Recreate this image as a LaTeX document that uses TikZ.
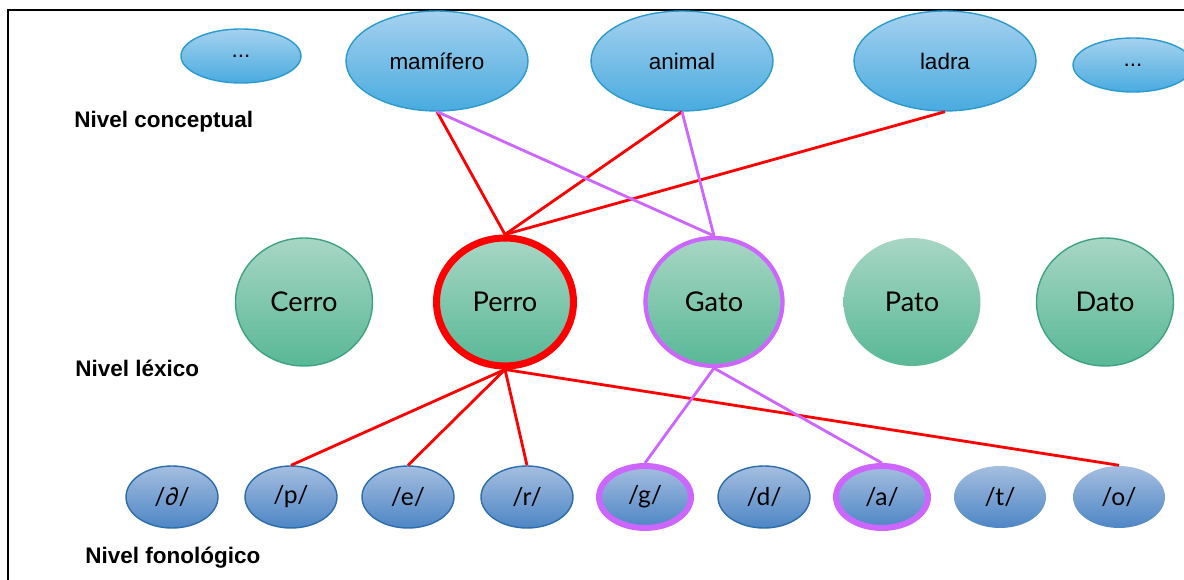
\documentclass[tikz,border=0pt]{standalone}
\usepackage{fontspec}
\setmainfont{Liberation Sans}
\newfontfamily\lexfont{Lato}
\usetikzlibrary{shapes.geometric}
\definecolor{conctop}{HTML}{A5D1EF}
\definecolor{concbot}{HTML}{49ABDF}
\definecolor{concline}{HTML}{2A9ACF}
\definecolor{lextop}{HTML}{A8D6C5}
\definecolor{lexbot}{HTML}{58B896}
\definecolor{lexline}{HTML}{3DA383}
\definecolor{fontop}{HTML}{A5BEE0}
\definecolor{fonbot}{HTML}{4D86C5}
\definecolor{fonline}{HTML}{2C6DAE}
\definecolor{redlink}{HTML}{FF0000}
\definecolor{violetlink}{HTML}{CC66FF}
\tikzset{
  concept/.style={ellipse, inner sep=0pt, top color=conctop, bottom color=concbot,
    draw=concline, line width=0.8pt, font=\fontsize{12.8}{14}\selectfont},
  bigconcept/.style={concept, minimum width=3.64cm, minimum height=2.0cm},
  smallconcept/.style={concept, minimum width=2.4cm, minimum height=1.08cm},
  lexeme/.style={ellipse, inner sep=0pt, minimum width=2.74cm, minimum height=2.56cm,
    top color=lextop, bottom color=lexbot, draw=lexline, line width=0.8pt,
    font=\lexfont\fontsize{15.5}{17}\selectfont},
  phoneme/.style={ellipse, inner sep=0pt, minimum width=1.84cm, minimum height=1.24cm,
    top color=fontop, bottom color=fonbot, draw=fonline, line width=0.8pt,
    font=\lexfont\fontsize{14}{16}\selectfont},
  noborder/.style={draw=none},
  redring/.style={draw=redlink, line width=4pt},
  violetring/.style={draw=violetlink, line width=2.4pt},
  violetthick/.style={draw=violetlink, line width=3.4pt},
  level/.style={anchor=west, inner sep=0pt, font=\bfseries\fontsize{12.8}{14}\selectfont},
  rededge/.style={draw=redlink, line width=1.6pt},
  violetedge/.style={draw=violetlink, line width=1.6pt},
}
\begin{document}
\begin{tikzpicture}[x=0.02cm, y=-0.02cm]
\useasboundingbox (0,0) rectangle (1184,580);
\fill[white] (0,0) rectangle (1184,580);
% outer frame (only left and top edges fall inside the page)
\draw[line width=1.2pt] (8,580) -- (8,10) -- (1184,10);

% conceptual level
\node[smallconcept] (c1) at (241,56) {...};
\node[bigconcept] (mam) at (437,61) {mamífero};
\node[bigconcept] (ani) at (682,61) {animal};
\node[bigconcept] (lad) at (945,61) {ladra};
\node[smallconcept] (c2) at (1133,65) {...};
\node[level] (lc) at (74,122) {Nivel conceptual};

% lexical level
\node[lexeme] (cerro) at (304,302) {Cerro};
\node[lexeme, redring] (perro) at (505,302) {Perro};
\node[lexeme, violetring] (gato) at (714,302) {Gato};
\node[lexeme, noborder] (pato) at (912,302) {Pato};
\node[lexeme] (dato) at (1105,302) {Dato};
\node[level] (ll) at (75,368) {Nivel léxico};

% phonological level
\node[phoneme] (f1) at (172,497) {/\itshape ∂\upshape/};
\node[phoneme] (fp) at (291,497) {/p/};
\node[phoneme] (fe) at (408,497) {/e/};
\node[phoneme] (fr) at (527,497) {/r/};
\node[phoneme, violetthick] (fg) at (645,497) {/g/};
\node[phoneme] (fd) at (764,497) {/d/};
\node[phoneme, violetthick] (fa) at (882,497) {/a/};
\node[phoneme, noborder] (ft) at (1000,497) {/t/};
\node[phoneme, noborder] (fo) at (1119,497) {/o/};
\node[level] (lf) at (85,558) {Nivel fonológico};

% links of Perro
\draw[rededge] (mam.south) -- (perro.north);
\draw[rededge] (ani.south) -- (perro.north);
\draw[rededge] (lad.south) -- (perro.north);
\draw[rededge] (perro.south) -- (fp.north);
\draw[rededge] (perro.south) -- (fe.north);
\draw[rededge] (perro.south) -- (fr.north);
\draw[rededge] (perro.south) -- (fo.north);

% links of Gato
\draw[violetedge] (mam.south) -- (gato.north);
\draw[violetedge] (ani.south) -- (gato.north);
\draw[violetedge] (gato.south) -- (fg.north);
\draw[violetedge] (gato.south) -- (fa.north);
\end{tikzpicture}
\end{document}
